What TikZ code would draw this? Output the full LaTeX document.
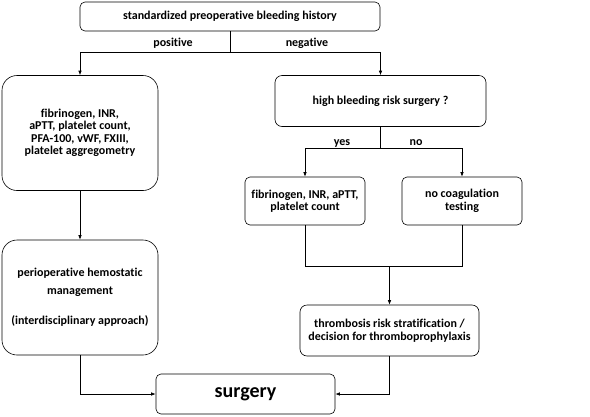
\documentclass[tikz,border=0pt]{standalone}
\usepackage{fontspec}
\setmainfont{Carlito}[Ligatures=NoCommon]
\usetikzlibrary{arrows.meta}
\tikzset{every picture/.style={line width=.6pt}}

\begin{document}
\begin{tikzpicture}[x=1pt,y=-1pt,>={Latex[length=4.5pt,width=3.5pt]},
 every node/.style={font=\fontsize{12}{12.5}\selectfont\bfseries},
 box/.style={draw,rounded corners=5pt,align=center,inner sep=0pt},
 bigbox/.style={box,rounded corners=15pt}]
 \useasboundingbox (0,0) rectangle (590,416);

 % first question: what the bleeding history shows
 \node[box,minimum width=300,minimum height=29] (hist) at (230,16.5)
  {standardized preoperative bleeding history};
 \coordinate (hsplit) at (230,52);
 \draw (hist.south)--(hsplit);
 \node at (173,43) {positive};
 \node at (307,43) {negative};

 % positive history: extended testing, then hemostatic management
 \node[bigbox,minimum width=156,minimum height=115] (labs) at (80,133)
  {fibrinogen, INR,\\aPTT, platelet count,\\PFA-100, vWF, FXIII,\\platelet aggregometry};
 \node[bigbox,minimum width=156,minimum height=115,
  font=\fontsize{12}{18}\selectfont\bfseries] (manage) at (80,297.5)
  {perioperative hemostatic\\management\\[12pt](interdisciplinary approach)};
 \draw[->] (hsplit)-|(labs.north);
 \draw[->] (labs.south)--(manage.north);

 % negative history: depends on the bleeding risk of the operation
 \node[box,minimum width=211,minimum height=51,rounded corners=7pt] (risk) at (380.5,101)
  {high bleeding risk surgery ?};
 \draw[->] (hsplit)-|(risk.north);
 \coordinate (rsplit) at (380.5,148);
 \draw (risk.south)--(rsplit);
 \node at (342,143) {yes};
 \node at (416,143) {no};
 \node[box,minimum width=120,minimum height=48] (basic) at (305,201)
  {fibrinogen, INR, aPTT,\\platelet count};
 \node[box,minimum width=120,minimum height=48] (none) at (462,201)
  {no coagulation\\testing};
 \draw[->] (rsplit)-|(basic.north);
 \draw[->] (rsplit)-|(none.north);

 % both branches meet before thrombosis assessment
 \node[box,minimum width=179,minimum height=51,rounded corners=7pt] (thromb) at (389.5,330.5)
  {thrombosis risk stratification /\\decision for thromboprophylaxis};
 \coordinate (join) at (389.5,266);
 \draw (basic.south)|-(join);
 \draw (none.south)|-(join);
 \draw[->] (join)--(thromb.north);

 % all paths end in surgery
 \node[box,minimum width=179,minimum height=40,
  font=\fontsize{20}{22}\selectfont\bfseries] (surg) at (245.5,394) {surgery};
 \draw[->] (manage.south)|-(surg.west);
 \draw[->] (thromb.south)|-(surg.east);
\end{tikzpicture}
\end{document}
